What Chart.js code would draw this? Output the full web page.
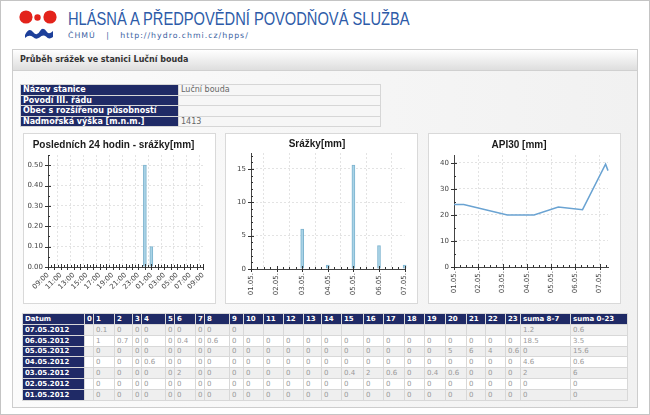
<!DOCTYPE html>
<html>
<head>
<meta charset="utf-8">
<script src="https://cdn.jsdelivr.net/npm/chart.js@4.4.1/dist/chart.umd.min.js"></script>
<style>
    body { margin: 0; width: 650px; height: 415px; overflow: hidden; background: #fff; font-family: 'DejaVu Sans', Verdana, sans-serif; }
    #page { position: relative; width: 650px; height: 415px; }
    #frame { position: absolute; left: 0; top: 0; width: 648px; height: 413px; border: 1px solid #c4c4c4; pointer-events: none; }
    #logo { position: absolute; left: 17px; top: 8px; }
    #brand { position: absolute; left: 68px; top: 9px; font: 18px 'Liberation Sans', Arial, sans-serif; color: #2d5ba8; white-space: nowrap; transform: scaleX(0.815); transform-origin: 0 0; }
    #sub { position: absolute; left: 68px; top: 31px; font-size: 7.8px; color: #3d5f9f; white-space: nowrap; letter-spacing: 1px; }
    #panel { position: absolute; left: 12px; top: 49px; width: 624px; height: 357px; border: 1px solid #cdcdcd; background: linear-gradient(to right, #fbfbfb, #f1f1f1); }
    #panelHead { position: absolute; left: 13px; top: 50px; width: 624px; height: 20px; background: linear-gradient(#ffffff, #dedede); border-bottom: 1px solid #d0d0d0; font-weight: bold; font-size: 8px; color: #333; line-height: 20px; text-indent: 7px; }
    table { border-collapse: collapse; table-layout: fixed; position: absolute; }
    td { padding: 0 0 0 2px; overflow: hidden; white-space: nowrap; font-size: 7px; }
    #info { left: 20px; top: 84px; width: 360px; }
    #info td { height: 9.5px; border: 1px solid #d6d6d6; font-size: 8px; line-height: 9px; }
    #info td.lab { background: #1f2a66; color: #fff; font-weight: bold; }
    #info td.val { background: #f6f6f6; color: #666; }
    .box { position: absolute; top: 133px; width: 191px; height: 169px; border: 1px solid #d9d9d9; background: #fff; }
    .box canvas { position: absolute; left: 0; top: 0; }
    #hours { left: 22px; top: 313px; width: 605px; }
    #hours td { height: 9.85px; border: 1px solid #d8d8d8; color: #999; }
    #hours tr.odd td { background: #efefef; }
    #hours tr.even td { background: #fff; }
    #hours tr.head td, #hours tr td.date { background: #1f2a66; color: #fff; font-weight: bold; }
</style>
</head>
<body>
<div id="page">
    <svg id="logo" width="42" height="32" viewBox="0 0 42 32">
        <circle cx="9" cy="9" r="6.6" fill="#e3231b"/>
        <circle cx="33" cy="9" r="6.6" fill="#e3231b"/>
        <path d="M14 4.2 A6.6 6.6 0 0 1 14 13.8 L18 9 Z" fill="#fff"/>
        <circle cx="20.5" cy="9.5" r="3.2" fill="#e3231b"/>
        <path d="M8 27 Q12 19 16 24 Q20 29 23 23 Q26 18 30 24 Q32 27 36 23 L36 29 Q32 32 29 28.5 Q26 26 22.5 29.5 Q19 32 16 29 Q12 26 8 30 Z" fill="#1d3f9a"/>
    </svg>
    <div id="brand">HLÁSNÁ A PŘEDPOVĚDNÍ POVODŇOVÁ SLUŽBA</div>
    <div id="sub">ČHMÚ &nbsp;&nbsp;| &nbsp;&nbsp;http://hydro.chmi.cz/hpps/</div>
    <div id="panel"></div>
    <div id="panelHead">Průběh srážek ve stanici Luční bouda</div>
    <table id="info"></table>
    <div class="box" style="left:23px"><canvas id="c24h" width="191" height="169"></canvas></div>
    <div class="box" style="left:225px"><canvas id="cDaily" width="191" height="169"></canvas></div>
    <div class="box" style="left:428px"><canvas id="cApi" width="191" height="169"></canvas></div>
    <table id="hours"></table>
    <div id="frame"></div>
</div>
<script>
// --- station info ---
const infoLabels = ['Název stanice', 'Povodí III. řádu', 'Obec s rozšířenou působností', 'Nadmořská výška [m.n.m.]'];
const infoValues = ['Luční bouda', '', '', '1413'];

// --- last 24 hours ---
const hourLabels = ['09:00', '10:00', '11:00', '12:00', '13:00', '14:00', '15:00', '16:00', '17:00', '18:00', '19:00', '20:00',
    '21:00', '22:00', '23:00', '00:00', '01:00', '02:00', '03:00', '04:00', '05:00', '06:00', '07:00', '08:00', '09:00'];
const hourlyRain = [0, 0, 0, 0, 0, 0, 0, 0, 0, 0, 0, 0, 0, 0, 0, 0.5, 0.1, 0, 0, 0, 0, 0, 0, 0, 0];

// --- daily sums ---
const dayLabels = ['01.05.', '02.05.', '03.05.', '04.05.', '05.05.', '06.05.', '07.05.'];
const dailyRain = [0, 0, 6, 0.6, 15.6, 3.5, 0.6];

// --- API30 (x in days from 01.05. 00:00) ---
const apiDays = [0, 0.4, 2.2, 3.3, 4.3, 5.3, 6.25, 6.35];
const apiValues = [24, 24, 20, 20, 23, 22, 39.5, 37];

// --- hourly table ---
const tableHead = ['Datum', '0', '1', '2', '3', '4', '5', '6', '7', '8', '9', '10', '11', '12', '13', '14', '15', '16',
    '17', '18', '19', '20', '21', '22', '23', 'suma 8-7', 'suma 0-23'];
const colWidths = [62, 9, 21, 18, 9, 24, 9, 21, 9, 25, 14, 20, 20, 20, 18, 20, 22, 20, 21, 20, 21, 21, 19, 20, 15, 50, 57];
const tableDates = ['07.05.2012', '06.05.2012', '05.05.2012', '04.05.2012', '03.05.2012', '02.05.2012', '01.05.2012'];
const z = '0';
const tableRows = [
    ['', '0.1', z, z, z, z, z, z, z, z, '', '', '', '', '', '', '', '', '', '', '', '', '', '', '1.2', '0.6'],
    ['', '1', '0.7', z, z, z, '0.4', z, '0.6', z, z, z, z, z, z, z, z, z, z, z, z, z, z, z, '18.5', '3.5'],
    ['', z, z, z, z, z, z, z, z, z, z, z, z, z, z, z, z, z, z, z, '5', '6', '4', '0.6', z, '15.6'],
    ['', z, z, z, '0.6', z, z, z, z, z, z, z, z, z, z, z, z, z, z, z, z, z, z, z, '4.6', '0.6'],
    ['', z, z, z, z, z, '2', z, z, z, z, z, z, z, z, '0.4', '2', '0.6', z, '0.4', '0.6', z, z, z, '2', '6'],
    ['', z, z, z, z, z, z, z, z, z, z, z, z, z, z, z, z, z, z, z, z, z, z, z, z, z],
    ['', z, z, z, z, z, z, z, z, z, z, z, z, z, z, z, z, z, z, z, z, z, z, z, z, z]
];

// build tables
const info = document.getElementById('info');
info.innerHTML = '<colgroup><col style="width:158px"><col style="width:202px"></colgroup>' +
    infoLabels.map((l, i) => `<tr><td class="lab">${l}</td><td class="val">${infoValues[i]}</td></tr>`).join('');

const hours = document.getElementById('hours');
let html = '<colgroup>' + colWidths.map(w => `<col style="width:${w}px">`).join('') + '</colgroup>';
html += '<tr class="head">' + tableHead.map(h => `<td>${h}</td>`).join('') + '</tr>';
tableRows.forEach((r, i) => {
    html += `<tr class="${i % 2 ? 'even' : 'odd'}"><td class="date">${tableDates[i]}</td>` + r.map(v => `<td>${v}</td>`).join('') + '</tr>';
});
hours.innerHTML = html;

// small tick marks along both axes
const axisTicks = {
    id: 'axisTicks',
    afterDraw(chart, args, opts) {
        const ctx = chart.ctx;
        ctx.save();
        ctx.strokeStyle = '#333';
        ctx.lineWidth = 1;
        ['x', 'y'].forEach(id => {
            const s = chart.scales[id];
            const step = opts[id];
            ctx.beginPath();
            for (let v = s.min; v <= s.max + 1e-9; v += step) {
                const p = Math.round(s.getPixelForValue(v)) + 0.5;
                if (id === 'x') { ctx.moveTo(p, s.top); ctx.lineTo(p, s.top - 2); }
                else { ctx.moveTo(s.right, p); ctx.lineTo(s.right + 2, p); }
            }
            s.ticks.forEach((t, i) => {
                const p = Math.round(s.getPixelForValue(s.type === 'category' ? i : t.value)) + 0.5;
                if (id === 'x') { ctx.moveTo(p, s.top - 3); ctx.lineTo(p, s.top + 3); }
                else { ctx.moveTo(s.right - 3, p); ctx.lineTo(s.right + 3, p); }
            });
            ctx.stroke();
        });
        ctx.restore();
    }
};

const tickFont = { family: 'DejaVu Sans', size: 7 };
const gridColor = '#e3e3e3';

function baseOptions(title, pad, titlePad, xHeight, minor) {
    return {
        responsive: false,
        animation: false,
        layout: { padding: pad },
        plugins: {
            legend: { display: false },
            tooltip: { enabled: false },
            title: { display: true, text: title, color: '#1a1a1a', padding: titlePad,
                font: { family: 'Liberation Sans', size: 10, weight: 'bold' } },
            axisTicks: minor
        },
        scales: {
            x: {
                grid: { color: gridColor, drawTicks: false },
                border: { color: '#444', dash: [2, 2] },
                ticks: { font: tickFont, color: '#444', padding: 4, autoSkip: false },
                afterFit: s => { s.height = xHeight; }
            },
            y: {
                min: 0,
                grid: { color: gridColor, drawTicks: false },
                border: { color: '#444', dash: [2, 2] },
                ticks: { font: tickFont, color: '#444', padding: 5, includeBounds: false },
                afterFit: s => { s.width = 24; }
            }
        }
    };
}

// chart 1: last 24 hours
const o1 = baseOptions('Posledních 24 hodin - srážky[mm]', { left: 0, right: 12, top: 0, bottom: 0 }, { top: 5, bottom: 4 }, 36, { x: 0.5, y: 0.05 });
o1.scales.x.offset = false;
o1.scales.x.ticks.minRotation = 45;
o1.scales.x.ticks.maxRotation = 45;
o1.scales.x.ticks.callback = (v, i) => (i % 2 ? '' : hourLabels[i]);
o1.scales.x.grid.color = c => (c.index % 2 ? 'rgba(0,0,0,0)' : gridColor);
o1.scales.y.max = 0.55;
o1.scales.y.ticks.stepSize = 0.1;
o1.scales.y.ticks.callback = v => v.toFixed(2);
new Chart(document.getElementById('c24h'), {
    type: 'bar',
    data: { labels: hourLabels, datasets: [{ data: hourlyRain, backgroundColor: '#a9d3e6', borderColor: '#7eb4cf',
        borderWidth: 1, barThickness: 3, clip: false }] },
    options: o1,
    plugins: [axisTicks]
});

// chart 2: daily sums
const o2 = baseOptions('Srážky[mm]', { left: 1, right: 10, top: 0, bottom: 0 }, { top: 4, bottom: 3 }, 34, { x: 0.25, y: 1 });
o2.scales.x.offset = false;
o2.scales.x.ticks.minRotation = 90;
o2.scales.x.ticks.maxRotation = 90;
o2.scales.y.max = 17.4;
o2.scales.y.ticks.stepSize = 5;
new Chart(document.getElementById('cDaily'), {
    type: 'bar',
    data: { labels: dayLabels, datasets: [{ data: dailyRain, backgroundColor: '#a9d3e6', borderColor: '#7eb4cf',
        borderWidth: 1, barThickness: 3, clip: false }] },
    options: o2,
    plugins: [axisTicks]
});

// chart 3: API30
const o3 = baseOptions('API30 [mm]', { left: 1, right: 12, top: 0, bottom: 0 }, { top: 5, bottom: 4 }, 36, { x: 0.25, y: 5 });
o3.scales.x.type = 'linear';
o3.scales.x.min = 0;
o3.scales.x.max = 6.35;
o3.scales.x.ticks.stepSize = 1;
o3.scales.x.ticks.includeBounds = false;
o3.scales.x.ticks.minRotation = 90;
o3.scales.x.ticks.maxRotation = 90;
o3.scales.x.ticks.callback = v => dayLabels[v];
o3.scales.y.max = 43;
o3.scales.y.ticks.stepSize = 10;
new Chart(document.getElementById('cApi'), {
    type: 'line',
    data: { datasets: [{ data: apiDays.map((d, i) => ({ x: d, y: apiValues[i] })), borderColor: '#6aa3d2',
        borderWidth: 1.5, pointRadius: 0, tension: 0, clip: false }] },
    options: o3,
    plugins: [axisTicks]
});
</script>
</body>
</html>
